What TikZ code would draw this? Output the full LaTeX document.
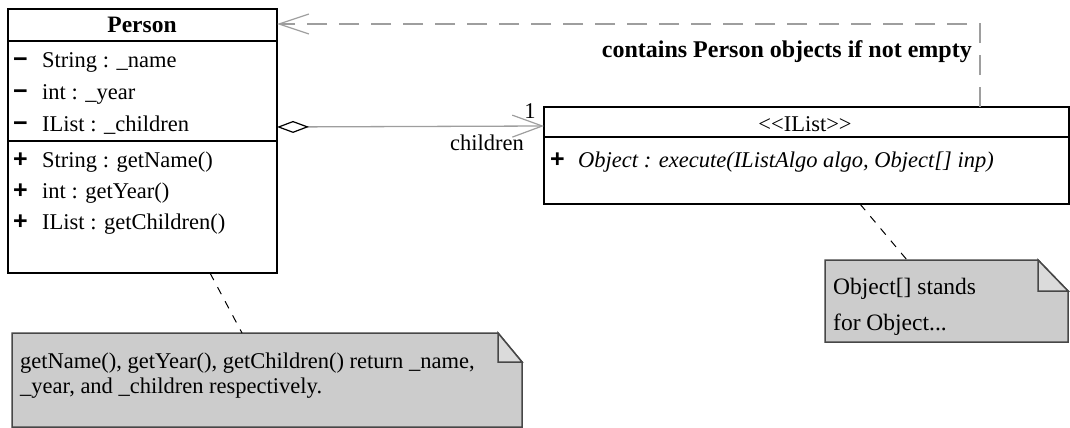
\documentclass[tikz,border=0pt]{standalone}
\usepackage{fontspec}
\setmainfont{Liberation Serif}
\setsansfont{Liberation Sans}
\usetikzlibrary{arrows.meta,calc}
\definecolor{notefill}{gray}{0.80}
\definecolor{foldfill}{gray}{0.86}
\definecolor{noteedge}{gray}{0.28}
\definecolor{linkgray}{gray}{0.62}
\begin{document}
\begin{tikzpicture}[x=1pt,y=-1pt,
  font=\fontsize{22.5}{27}\selectfont,
  classbox/.style={draw=black, line width=1.6pt, inner sep=0pt, outer sep=0pt, anchor=north west},
  compline/.style={draw=black, line width=1.6pt},
  vissym/.style={anchor=base west, inner sep=0pt, font=\fontsize{25}{27}\selectfont\sffamily\bfseries},
  member/.style={anchor=base west, inner sep=0pt},
  notebox/.style={inner sep=0pt, outer sep=0pt, anchor=north west},
  noteshape/.style={fill=notefill, draw=noteedge, line width=1.5pt, line join=miter},
  notefold/.style={fill=foldfill, draw=noteedge, line width=1.5pt},
  noteline/.style={draw=black, line width=1pt, dash pattern=on 8pt off 8pt},
  depline/.style={draw=linkgray, line width=1.3pt, dash pattern=on 20pt off 12pt},
  aggline/.style={draw=linkgray, line width=1.3pt},
]
\useasboundingbox (0,0) rectangle (1070,428);
\clip (0,0) rectangle (1070,428);

% ---------- Person class ----------
\node[classbox, minimum width=269pt, minimum height=264pt] (person) at (8,9) {};
\draw[compline] (person.west |- 0,41) -- (person.east |- 0,41);
\draw[compline] (person.west |- 0,141) -- (person.east |- 0,141);
\node[anchor=base, inner sep=0pt, font=\fontsize{23.5}{27}\selectfont\bfseries] (ptitle) at (142,33) {Person};
\node[vissym] (pa1s) at (13,67) {−};
\node[member] (pa1) at (42,67) {String : \_name};
\node[vissym] (pa2s) at (13,99) {−};
\node[member] (pa2) at (42,99) {int : \_year};
\node[vissym] (pa3s) at (13,131) {−};
\node[member] (pa3) at (42,131) {IList : \_children};
\node[vissym] (pm1s) at (13,167) {+};
\node[member] (pm1) at (42,167) {String : getName()};
\node[vissym] (pm2s) at (13,198) {+};
\node[member] (pm2) at (42,198) {int : getYear()};
\node[vissym] (pm3s) at (13,229) {+};
\node[member] (pm3) at (42,229) {IList : getChildren()};

% ---------- IList interface ----------
\node[classbox, minimum width=525pt, minimum height=97pt] (ilist) at (544,107) {};
\draw[compline] (ilist.west |- 0,137) -- (ilist.east |- 0,137);
\node[anchor=base, inner sep=0pt] (ititle) at (805,131) {<\kern0pt<IList>\kern0pt>};
\node[vissym] (im1s) at (550,167) {+};
\node[member, font=\fontsize{22.5}{27}\selectfont\itshape] (im1) at (578,167) {Object : execute(IListAlgo algo, Object[] inp)};

% ---------- aggregation Person -> IList ----------
\draw[aggline, {Diamond[open, length=32pt, width=12pt, color=black, line width=1.2pt]}-{Straight Barb[length=30pt, width=22pt, line width=1.2pt]}]
  ([yshift=-118pt]person.north east) -- ([yshift=-19pt]ilist.north west);
\node[anchor=base, inner sep=0pt] (mult) at (530,118) {1};
\node[anchor=base, inner sep=0pt] (role) at (487,150) {children};

% ---------- dependency IList -> Person ----------
\coordinate (depstart) at ([xshift=436pt]ilist.north west);
\draw[depline, -{Straight Barb[length=30pt, width=20pt, line width=1.2pt]}]
  (depstart) |- ([yshift=-15pt]person.north east);
\node[anchor=base east, inner sep=0pt, font=\fontsize{24}{27}\selectfont\bfseries] (deplabel) at (972,58) {contains Person objects if not empty};

% ---------- note for Person ----------
\node[notebox, minimum width=510pt, minimum height=94pt] (pnote) at (12,333) {};
\path[noteshape] (pnote.north west) -- ([xshift=-24pt]pnote.north east) -- ([yshift=-29pt]pnote.north east)
  -- (pnote.south east) -- (pnote.south west) -- cycle;
\path[notefold] ([xshift=-24pt]pnote.north east) -- ([xshift=-24pt,yshift=-29pt]pnote.north east)
  -- ([yshift=-29pt]pnote.north east) -- cycle;
\node[anchor=base west, inner sep=0pt] (pnl1) at (20,368) {getName(), getYear(), getChildren() return \_name,};
\node[anchor=base west, inner sep=0pt] (pnl2) at (20,393) {\_year, and \_children respectively.};
\draw[noteline] (person.south -| 210,0) -- (pnote.north -| 242,0);

% ---------- note for IList ----------
\node[notebox, minimum width=243pt, minimum height=82pt] (inote) at (825,260) {};
\path[noteshape] (inote.north west) -- ([xshift=-30pt]inote.north east) -- ([yshift=-31pt]inote.north east)
  -- (inote.south east) -- (inote.south west) -- cycle;
\path[notefold] ([xshift=-30pt]inote.north east) -- ([xshift=-30pt,yshift=-31pt]inote.north east)
  -- ([yshift=-31pt]inote.north east) -- cycle;
\node[anchor=base west, inner sep=0pt, font=\fontsize{23.5}{27}\selectfont] (inl1) at (833,294) {Object[] stands};
\node[anchor=base west, inner sep=0pt, font=\fontsize{23.5}{27}\selectfont] (inl2) at (833,330) {for Object...};
\draw[noteline] (ilist.south -| 860,0) -- (inote.north -| 907,0);
\end{tikzpicture}
\end{document}
